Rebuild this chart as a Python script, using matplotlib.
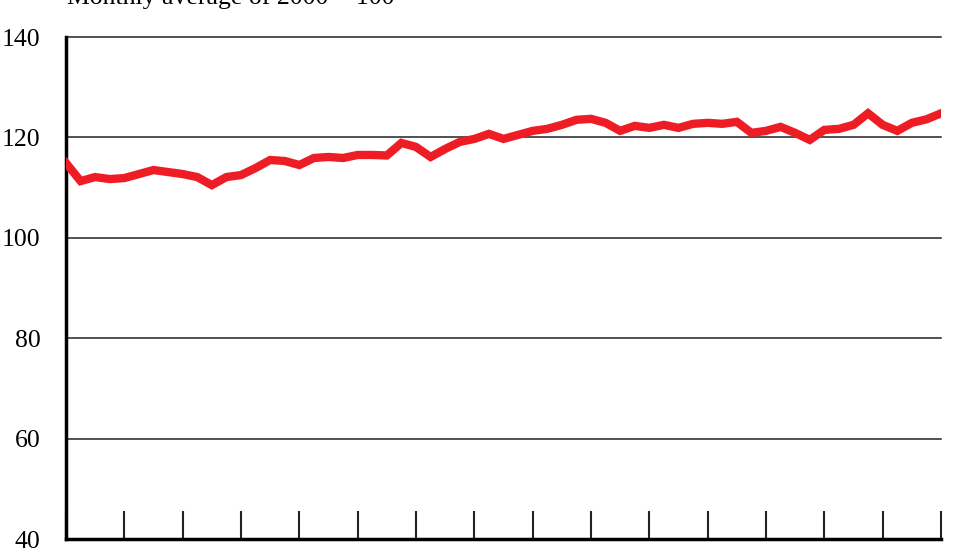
import matplotlib
matplotlib.use('Agg')
import matplotlib.pyplot as plt
import numpy as np

# index values, 61 monthly points
values = [114.9, 111.3, 112.1, 111.7, 111.9, 112.7, 113.5, 113.1, 112.7, 112.1,
          110.5, 112.1, 112.5, 113.9, 115.5, 115.3, 114.5, 115.9, 116.1, 115.9,
          116.5, 116.5, 116.4, 118.9, 118.1, 116.1, 117.7, 119.1, 119.7, 120.7,
          119.7, 120.5, 121.3, 121.7, 122.5, 123.5, 123.7, 122.9, 121.3, 122.3,
          121.9, 122.5, 121.9, 122.7, 122.9, 122.7, 123.1, 120.9, 121.3, 122.1,
          120.9, 119.5, 121.5, 121.7, 122.5, 124.8, 122.5, 121.3, 122.9, 123.6,
          124.8]
yticks = [40, 60, 80, 100, 120, 140]
title = 'Monthly average of 2000 = 100'

x = np.arange(len(values))

fig = plt.figure(figsize=(9.8, 5.52), dpi=100)
ax = fig.add_axes([66/980, 1-539/552, (941-66)/980, (539-37)/552])

for v in yticks[1:]:
    ax.axhline(v, color='#222222', lw=1.1, zorder=1, clip_on=False)

ax.plot(x, values, color='#ee1c25', lw=6, solid_joinstyle='miter', zorder=3)

ax.set_xlim(0, len(values) - 1)
ax.set_ylim(40, 140)
ax.set_xticks(np.arange(0, len(values), 4))
ax.tick_params(axis='x', direction='in', length=20, width=1.5, labelbottom=False, color='#222222')
ax.set_yticks(yticks)
ax.tick_params(axis='y', length=0, pad=18.5, labelsize=18.5)
for lab in ax.get_yticklabels():
    lab.set_fontfamily('Liberation Serif')

for s in ['top', 'right']:
    ax.spines[s].set_visible(False)
for s in ['left', 'bottom']:
    ax.spines[s].set_linewidth(2.5)
    ax.spines[s].set_color('black')

fig.text(67/980, 1-4/552, title, fontsize=18.5, family='Liberation Serif', va='baseline', ha='left')

fig.savefig('out.png', dpi=100)
